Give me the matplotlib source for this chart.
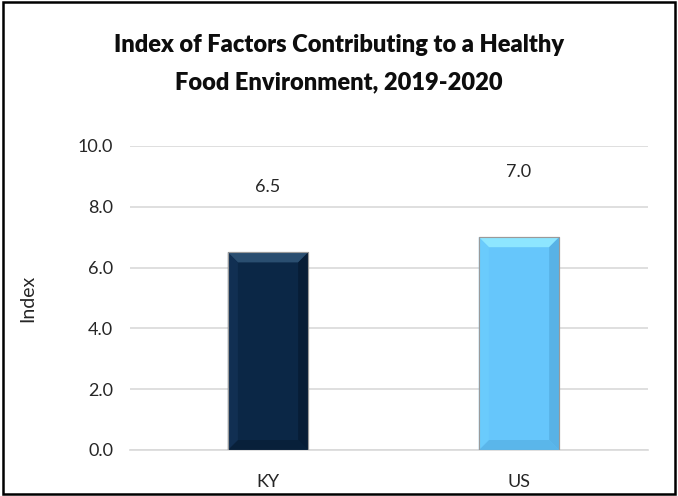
import matplotlib
matplotlib.use("Agg")
import matplotlib.pyplot as plt
from matplotlib.patches import Rectangle, Polygon

categories = ["KY", "US"]
values = [6.5, 7.0]
colors = ["#0B2746", "#66C6FB"]
top_colors = ["#2A4E70", "#8DE6FF"]
left_colors = ["#112F52", "#6ACBFC"]
right_colors = ["#071D36", "#58B2E6"]
bottom_colors = ["#08203A", "#5AB6EA"]
yticks = [0, 2, 4, 6, 8, 10]

plt.rcParams['font.family'] = ['Lato', 'DejaVu Sans']

fig = plt.figure(figsize=(6.78, 4.96), dpi=100)
ax = fig.add_axes([130/678, 1-450/496, (648-130)/678, (450-146)/496])

x = list(range(len(categories)))
bars = ax.bar(x, values, width=0.32, color=colors, edgecolor="#9a9a9a", linewidth=0.8, zorder=3)
ax.set_xlim(-0.55, 1.514)
ax.set_ylim(0, 10)

# bevel effect
fig.canvas.draw()
inv = ax.transData.inverted()
p0 = inv.transform((0, 0))
p1 = inv.transform((10, 10))
dx, dy = p1[0]-p0[0], p1[1]-p0[1]
for b, tc, lc, rc, bc in zip(bars, top_colors, left_colors, right_colors, bottom_colors):
    x0, x1 = b.get_x(), b.get_x() + b.get_width()
    h = b.get_height()
    ax.add_patch(Polygon([(x0, h), (x1, h), (x1-dx, h-dy), (x0+dx, h-dy)], closed=True,
                         facecolor=tc, edgecolor="none", zorder=4))
    ax.add_patch(Polygon([(x0, 0), (x1, 0), (x1-dx, dy), (x0+dx, dy)], closed=True,
                         facecolor=bc, edgecolor="none", zorder=4))
    ax.add_patch(Polygon([(x0, 0), (x0+dx, dy), (x0+dx, h-dy), (x0, h)], closed=True,
                         facecolor=lc, edgecolor="none", zorder=4))
    ax.add_patch(Polygon([(x1, 0), (x1-dx, dy), (x1-dx, h-dy), (x1, h)], closed=True,
                         facecolor=rc, edgecolor="none", zorder=4))
    ax.add_patch(Rectangle((x0, 0), x1-x0, h, fill=False, edgecolor="#9a9a9a", linewidth=0.8, zorder=5))

for b, v in zip(bars, values):
    ax.text(b.get_x() + b.get_width()/2, v + 2.15, f"{v:.1f}", ha="center", va="center",
            fontsize=13, color="#262626")

ax.set_yticks(yticks)
ax.set_yticklabels([f"{t:.1f}" for t in yticks], fontsize=13, color="#262626")
ax.set_xticks(x)
ax.set_xticklabels(categories, fontsize=13, color="#262626")
ax.tick_params(axis="y", length=0, pad=12)
ax.tick_params(axis="x", length=0, pad=17)
ax.yaxis.grid(True, color="#d9d9d9", linewidth=1.2, zorder=0)
for s in ["top", "right", "left"]:
    ax.spines[s].set_visible(False)
ax.spines["bottom"].set_color("#d9d9d9")
ax.spines["bottom"].set_linewidth(1.2)
ax.set_ylabel("Index", fontsize=14, color="#262626", labelpad=30)

fig.text(0.5, 1-45/496, "Index of Factors Contributing to a Healthy", ha="center", va="center",
         fontsize=17, fontweight="heavy", color="#0d0d0d")
fig.text(0.5, 1-82/496, "Food Environment, 2019-2020", ha="center", va="center",
         fontsize=17, fontweight="heavy", color="#0d0d0d")

border = Rectangle((3/678, 2/496), 672/678, 492/496, transform=fig.transFigure,
                   fill=False, edgecolor="black", linewidth=1.8)
fig.patches.append(border)

fig.savefig("out.png", dpi=100)
